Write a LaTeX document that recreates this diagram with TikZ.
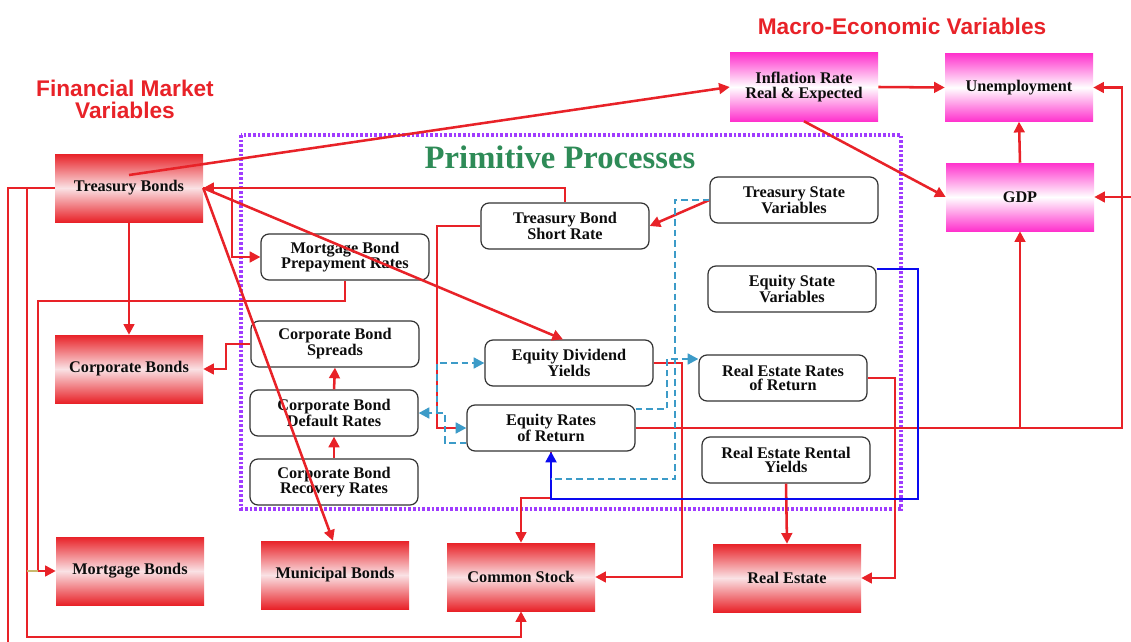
\documentclass[tikz,border=0pt]{standalone}
\usepackage{fontspec}
\setmainfont{Liberation Serif}
\newfontfamily\titlefont{Liberation Sans}
\usetikzlibrary{arrows.meta}
\definecolor{lred}{RGB}{232,34,40}
\definecolor{lpink}{RGB}{250,226,229}
\definecolor{lmag}{RGB}{255,50,205}
\definecolor{lteal}{RGB}{60,155,200}
\definecolor{lblue}{RGB}{10,10,240}
\definecolor{lpurple}{RGB}{160,60,255}
\definecolor{lgreen}{RGB}{46,139,87}
\definecolor{lolive}{RGB}{200,185,110}
\begin{document}
\begin{tikzpicture}[x=0.75pt,y=-0.75pt,
  boxtext/.style={font=\fontsize{12.2}{11}\selectfont\bfseries, text=black!95, align=center, inner sep=0pt},
  fin/.style={boxtext, minimum width=111pt, minimum height=51pt, top color=lred, bottom color=lred, middle color=lpink},
  mac/.style={boxtext, minimum width=111pt, minimum height=51pt, top color=lmag, bottom color=lmag, middle color=white},
  prim/.style={boxtext, draw=black!80, line width=0.9pt, rounded corners=6pt, fill=white, minimum width=126pt, minimum height=34.5pt},
  con/.style={draw=lred, line width=1.9pt, -{Triangle[length=8pt,width=8pt]}},
  plain/.style={draw=lred, line width=1.9pt},
  tcon/.style={draw=lteal, line width=1.9pt, dash pattern=on 5pt off 3pt, -{Triangle[length=8pt,width=8pt]}},
  tplain/.style={draw=lteal, line width=1.9pt, dash pattern=on 5pt off 3pt},
  bcon/.style={draw=lblue, line width=2.2pt, -{Triangle[length=8pt,width=8pt]}},
  heading/.style={font=\titlefont\bfseries\fontsize{17}{16.5}\selectfont, text=lred, align=center}
]
\useasboundingbox (0,0) rectangle (1131,642);

% primitive processes frame
\draw[lpurple, line width=2.5pt, dash pattern=on 2pt off 1.5pt] (241,135) rectangle (901,509);

% headings
\node[heading] (fmv) at (125,99) {Financial Market\\Variables};
\node[heading] (mev) at (902,26) {Macro-Economic Variables};
\node[font=\bfseries\fontsize{24.5}{26}\selectfont, text=lgreen] (pp) at (560,157) {Primitive Processes};

% financial market boxes
\node[fin] (tb) at (129,188) {Treasury Bonds};
\node[fin] (corp) at (129,369) {Corporate Bonds};
\node[fin] (mort) at (130,571) {Mortgage Bonds};
\node[fin] (mun) at (335,575) {Municipal Bonds};
\node[fin] (cs) at (521,577) {Common Stock};
\node[fin] (re) at (787,578) {Real Estate};

% macro boxes
\node[mac] (infl) at (804,87) {Inflation Rate\\Real \& Expected};
\node[mac] (unemp) at (1019,87.5) {Unemployment};
\node[mac] (gdp) at (1020,197) {GDP};

% primitive process boxes
\node[prim] (tbsr) at (565,226) {Treasury Bond\\Short Rate};
\node[prim] (mbpr) at (345,257) {Mortgage Bond\\Prepayment Rates};
\node[prim] (cbs) at (335,344) {Corporate Bond\\Spreads};
\node[prim] (cbdr) at (334,413) {Corporate Bond\\Default Rates};
\node[prim] (cbrr) at (334,482) {Corporate Bond\\Recovery Rates};
\node[prim] (edy) at (569,363) {Equity Dividend\\Yields};
\node[prim] (err) at (551,428) {Equity Rates\\of Return};
\node[prim] (tsv) at (794,200) {Treasury State\\Variables};
\node[prim] (esv) at (792,289) {Equity State\\Variables};
\node[prim] (rerr) at (783,378) {Real Estate Rates\\of Return};
\node[prim] (rery) at (786,460) {Real Estate Rental\\Yields};

% free ends
\coordinate (offb) at (8,645);
\coordinate (offr) at (1135,197);

% red connectors
\draw[con] ([yshift=9.75pt]tb.center) -- (infl.west);
\draw[con] (tbsr.north) |- (tb.east);
\draw[con] (tb.east) -- (232,188) |- (mbpr.west);
\draw[con] (tb.east) -- ([xshift=-4.5pt]edy.north);
\draw[con] (tb.east) -- ([xshift=-1.5pt]mun.north);
\draw[con] (tb.south) -- (corp.north);
\draw[con] (cbs.west) -- (226,344) |- (corp.east);
\draw[con] (mbpr.south) |- (38,301) |- (mort.west);
\draw[con] (tb.west) -| (27,637) -| (cs.south);
\draw[plain] (tb.west) -| (offb);
\draw[draw=lolive, line width=1.9pt] (27,571) -- (38,571);
\draw[plain, -{Triangle[length=8pt,width=8pt,color=lteal]}] (tbsr.west) -- (437,226) |- (err.west);
\draw[con] (tsv.west) -- (tbsr.east);
\draw[con] (edy.east) -- (682,363) |- (cs.east);
\draw[con] (err.east) -| (gdp.south);
\draw[con] (err.east) -| (1122,87.5) -- (unemp.east);
\draw[con] (offr) -- (gdp.east);
\draw[con] (err.south) -- (551,498) -| (cs.north);
\draw[con] (rerr.east) -- (895,378) |- (re.east);
\draw[con] (rery.south) -- (re.north);
\draw[con] (infl.east) -- (unemp.west);
\draw[con] (infl.south) -- (gdp.west);
\draw[con] (gdp.north) -- (unemp.south);
\draw[con] (cbdr.north) -- (cbs.south);
\draw[con] (cbrr.north) -- (cbdr.south);

% blue connector
\draw[bcon] ([yshift=15pt]esv.east) -- (918,269) |- (551,499) -- (err.south);

% teal dashed connectors
\draw[tplain] (tsv.west) -- (675,200) -- (675,479) -- (551,479);
\draw[tcon] ([yshift=14.25pt]err.east) -- (667,409) |- ([yshift=14.25pt]rerr.west);
\draw[tcon] ([yshift=-11.25pt]err.west) -- (445,443) |- (cbdr.east);
\draw[tcon] (437,413) |- (edy.west);
\end{tikzpicture}
\end{document}
